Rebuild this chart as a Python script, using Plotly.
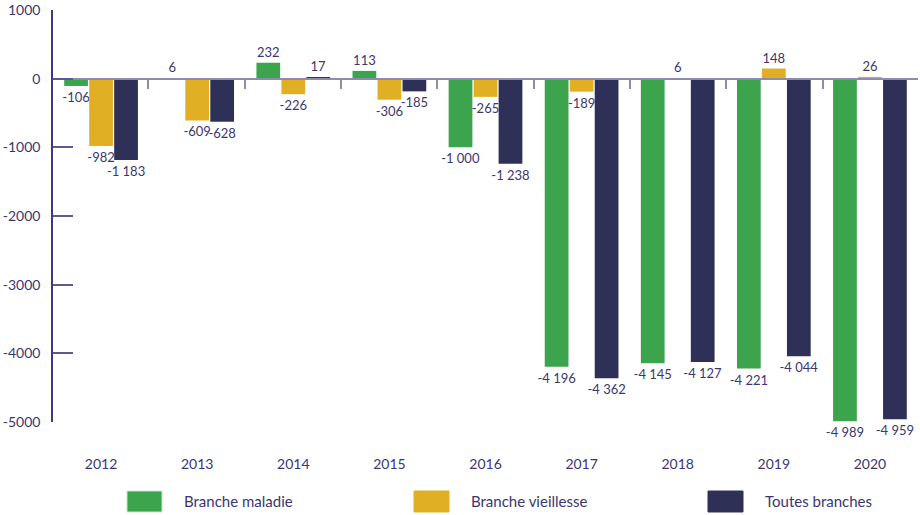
import plotly.graph_objects as go

years = ["2012", "2013", "2014", "2015", "2016", "2017", "2018", "2019", "2020"]
maladie = [-106, 6, 232, 113, -1000, -4196, -4145, -4221, -4989]
vieillesse = [-982, -609, -226, -306, -265, -189, 6, 148, 26]
toutes = [-1183, -628, 17, -185, -1238, -4362, -4127, -4044, -4959]

series_names = ["Branche maladie", "Branche vieillesse", "Toutes branches"]
series_colors = ["#3ca44c", "#e0af23", "#2e3057"]

y_ticks = [1000, 0, -1000, -2000, -3000, -4000, -5000]

TEXT = "#3b3672"
FONT = "Lato"

W, H = 920, 515
M = dict(l=53, r=2, t=10, b=93)


def fmt(v):
    # french style thousands: "-1 183"
    return f"{v:,}".replace(",", " ")


def px_to_paper(x, y):
    pw = W - M["l"] - M["r"]
    ph = H - M["t"] - M["b"]
    return (x - M["l"]) / pw, (H - M["b"] - y) / ph


fig = go.Figure()
for name, vals, color in zip(series_names, [maladie, vieillesse, toutes], series_colors):
    fig.add_trace(go.Bar(x=years, y=vals, name=name, marker_color=color, marker_line_width=0,
                         text=[fmt(v) for v in vals], textposition="outside", constraintext="none",
                         cliponaxis=False, textfont=dict(family=FONT, size=13, color=TEXT),
                         showlegend=False))

# invisible trace that carries the axis line drawn at y = 0
fig.add_trace(go.Scatter(x=years, y=[0] * len(years), xaxis="x2", mode="markers",
                         marker_opacity=0, showlegend=False, hoverinfo="skip"))

fig.update_layout(
    width=W, height=H, margin=M,
    plot_bgcolor="white", paper_bgcolor="white",
    barmode="group", bargap=0.22, bargroupgap=0.05,
    font=dict(family=FONT, color=TEXT, size=14),
    xaxis=dict(showline=False, ticks="", showgrid=False, zeroline=False,
               ticklabelstandoff=32, tickfont=dict(size=14, color=TEXT)),
    xaxis2=dict(overlaying="x", anchor="free", position=5000 / 6000, side="bottom",
                showline=True, linecolor="#8f8ab4", linewidth=1.5, ticks="outside",
                tickson="boundaries", ticklen=10, tickcolor="#8f8ab4", tickwidth=1.5,
                showticklabels=False, showgrid=False, zeroline=False,
                categoryorder="array", categoryarray=years),
    yaxis=dict(range=[-5000, 1000], tickvals=y_ticks, ticktext=[str(v) for v in y_ticks],
               showgrid=False, zeroline=False, showline=True, linecolor="#3f3a7a", linewidth=1.5,
               ticks="inside", ticklen=20, tickcolor="#5e5894", tickwidth=1.5,
               ticklabelstandoff=8, tickfont=dict(size=14, color=TEXT)),
)

# legend drawn as boxes + labels below the plot
legend_box_x = [127, 414, 708]
for name, color, bx in zip(series_names, series_colors, legend_box_x):
    x0, y1 = px_to_paper(bx, 491)
    x1, y0 = px_to_paper(bx + 35, 512)
    fig.add_shape(type="rect", xref="paper", yref="paper", x0=x0, x1=x1, y0=y0, y1=y1,
                  fillcolor=color, line=dict(width=1, color="#c8e6c9" if color == series_colors[0] else color))
    tx, ty = px_to_paper(bx + 55, 501)
    fig.add_annotation(xref="paper", yref="paper", x=tx, y=ty, text=name, showarrow=False,
                       xanchor="left", yanchor="middle", font=dict(family=FONT, size=15, color=TEXT))

fig.write_html("out.html", config={"displayModeBar": False},
               post_script="document.body.style.margin='0';")
